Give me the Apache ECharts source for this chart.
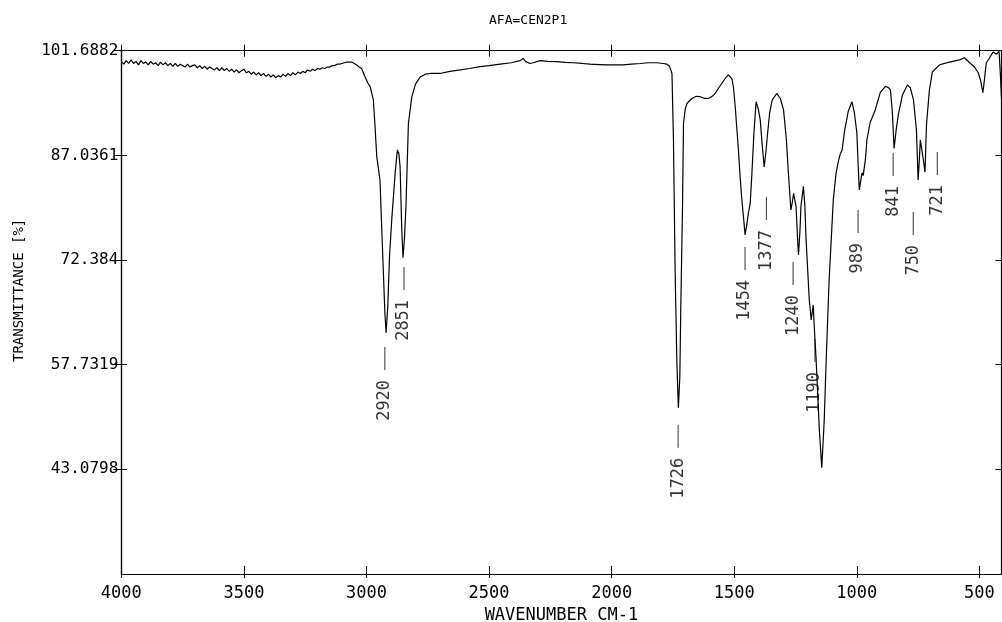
<!DOCTYPE html>
<html><head><meta charset="utf-8">
<script src="https://cdn.jsdelivr.net/npm/echarts@6/dist/echarts.min.js"></script>
<style>html,body{margin:0;padding:0;background:#fff}#c{width:1002px;height:622px}</style>
</head><body><div id="c"></div>
<script>
// spectrum: [wavenumber cm-1, transmittance %]
const spectrum = [[4000,100.2],[3990,99.8],[3980,100.3],[3970,99.9],[3960,100.4],[3950,99.9],[3940,100.2],[3930,99.7],[3920,100.3],[3910,99.9],[3900,100.1],[3890,99.7],[3880,100.2],[3870,99.8],[3860,100.0],[3850,99.6],[3840,100.1],[3830,99.7],[3820,100.0],[3810,99.6],[3800,99.9],[3790,99.5],[3780,99.9],[3770,99.5],[3760,99.8],[3750,99.6],[3740,99.4],[3730,99.8],[3720,99.4],[3710,99.6],[3700,99.7],[3690,99.3],[3680,99.6],[3670,99.2],[3660,99.5],[3650,99.1],[3640,99.4],[3630,99.2],[3620,99.0],[3610,99.3],[3600,98.9],[3590,99.3],[3580,98.9],[3570,99.2],[3560,98.8],[3550,99.1],[3540,98.7],[3530,99.0],[3520,98.6],[3510,98.9],[3500,99.1],[3490,98.6],[3480,98.8],[3470,98.4],[3460,98.7],[3450,98.3],[3440,98.6],[3430,98.2],[3420,98.5],[3410,98.1],[3400,98.4],[3390,98.0],[3380,98.3],[3370,97.9],[3360,98.2],[3350,98.0],[3340,98.4],[3330,98.1],[3320,98.5],[3310,98.2],[3300,98.6],[3290,98.3],[3280,98.7],[3270,98.5],[3260,98.8],[3250,98.6],[3240,99.0],[3230,98.8],[3220,99.1],[3210,98.9],[3200,99.2],[3190,99.1],[3180,99.3],[3170,99.2],[3160,99.4],[3150,99.4],[3140,99.6],[3130,99.6],[3120,99.8],[3110,99.8],[3100,99.9],[3090,100.0],[3080,100.1],[3070,100.1],[3060,100.1],[3050,99.9],[3040,99.7],[3030,99.4],[3020,99.2],[3006,98.05],[2995,97.2],[2985,96.65],[2978,96.8],[2972,94.8],[2965,91.0],[2958,86.85],[2945,83.6],[2931,70.6],[2925,65.0],[2920,62.2],[2913,66.0],[2906,72.9],[2897,78.0],[2883,84.6],[2874,87.8],[2868,87.3],[2863,85.5],[2856,76.6],[2851,72.7],[2845,75.5],[2839,79.9],[2829,91.5],[2815,95.25],[2800,97.0],[2781,98.0],[2760,98.4],[2740,98.5],[2700,98.5],[2660,98.8],[2618,99.0],[2580,99.2],[2537,99.45],[2500,99.6],[2455,99.8],[2410,100.0],[2373,100.3],[2361,100.6],[2352,100.2],[2345,100.4],[2333,99.9],[2320,100.0],[2312,99.9],[2292,100.3],[2260,100.2],[2224,100.15],[2190,100.05],[2157,100.0],[2120,99.9],[2088,99.8],[2050,99.75],[2020,99.7],[1985,99.7],[1953,99.7],[1920,99.8],[1884,99.9],[1850,100.0],[1816,100.0],[1790,99.9],[1775,99.8],[1764,99.5],[1754,98.5],[1748,89.2],[1741,70.6],[1734,58.0],[1728,51.7],[1722,56.0],[1718,65.9],[1711,79.9],[1707,91.5],[1700,93.5],[1693,94.3],[1673,95.0],[1655,95.3],[1639,95.25],[1620,95.0],[1605,95.0],[1590,95.3],[1578,95.7],[1565,96.4],[1551,97.1],[1537,97.8],[1524,98.3],[1517,98.1],[1510,97.8],[1503,96.5],[1496,93.85],[1490,91.0],[1483,87.8],[1476,84.0],[1469,80.8],[1462,78.3],[1456,75.9],[1448,77.5],[1442,79.0],[1435,80.3],[1428,84.5],[1420,90.0],[1411,94.55],[1402,93.5],[1394,92.0],[1386,88.5],[1378,85.4],[1371,87.5],[1364,90.1],[1356,92.9],[1345,94.8],[1326,95.7],[1312,95.0],[1299,93.4],[1288,89.5],[1279,84.5],[1269,79.4],[1263,80.5],[1258,81.7],[1248,79.9],[1242,75.5],[1238,73.1],[1232,76.5],[1228,79.9],[1218,82.7],[1212,80.0],[1207,75.2],[1194,66.8],[1186,64.0],[1178,66.1],[1172,62.0],[1166,58.4],[1153,48.6],[1143,43.3],[1133,50.0],[1125,58.4],[1113,69.6],[1096,80.8],[1085,84.5],[1076,86.1],[1068,87.2],[1060,87.8],[1050,90.5],[1035,93.2],[1020,94.55],[1010,93.0],[1000,90.2],[995,86.0],[990,82.2],[984,83.5],[979,84.6],[974,84.2],[970,84.0],[965,86.5],[959,89.2],[946,91.6],[925,93.4],[904,95.9],[883,96.7],[870,96.5],[863,96.2],[855,93.0],[848,88.0],[840,90.5],[831,92.7],[814,95.5],[794,96.9],[782,96.5],[769,94.8],[757,90.6],[750,83.6],[745,86.5],[741,89.2],[733,89.0],[727,86.0],[722,84.7],[716,91.3],[704,96.2],[692,98.7],[663,99.7],[622,100.1],[581,100.4],[561,100.7],[540,100.0],[520,99.4],[505,98.6],[495,97.5],[486,95.8],[480,97.5],[472,100.0],[460,100.6],[450,101.2],[444,101.5],[430,101.2],[420,101.6],[414,98.0],[410,95.0]];

const peakLabels = ['2920','2851','1726','1454','1377','1240','1190','989','841','750','721'];
const peakMarkWavenumber = [2925, 2847, 1729, 1456, 1369, 1260, 1171, 995, 852, 770, 672];
const peakMarkTransmittance = [61.62, 72.82, 50.71, 75.62, 82.61, 73.51, 62.74, 80.80, 88.77, 80.52, 88.91];

const yTicks = [43.0798, 57.7319, 72.384, 87.0361, 101.6882];
const yTickLabels = ['43.0798', '57.7319', '72.384', '87.0361', '101.6882'];
const xTicks = [4000, 3500, 3000, 2500, 2000, 1500, 1000, 500];
const xTickLabels = ['4000', '3500', '3000', '2500', '2000', '1500', '1000', '500'];
const yMin = 28.4277, yMax = 101.6882, xMin = 410, xMax = 4000;

const FONT = 'DejaVu Sans Mono';
const INK = '#000';
const chart = echarts.init(document.getElementById('c'), null, {renderer: 'canvas'});

function xAx(extra) {
  return Object.assign({
    type: 'value', min: xMin, max: xMax, inverse: true, gridIndex: 0,
    axisLine: {show: true, lineStyle: {color: INK, width: 1.2}},
    splitLine: {show: false},
    axisLabel: {show: false},
    axisTick: {show: true, customValues: xTicks, lineStyle: {color: INK, width: 1}}
  }, extra);
}
function yAx(extra) {
  return Object.assign({
    type: 'value', min: yMin, max: yMax, gridIndex: 0,
    axisLine: {show: true, lineStyle: {color: INK, width: 1.2}},
    splitLine: {show: false},
    axisLabel: {show: false},
    axisTick: {show: true, customValues: yTicks, lineStyle: {color: INK, width: 1}}
  }, extra);
}

chart.setOption({
  animation: false,
  backgroundColor: '#fff',
  title: {
    text: 'AFA=CEN2P1', left: 484, top: 9,
    textStyle: {fontFamily: FONT, fontSize: 13, fontWeight: 'normal', color: INK}
  },
  grid: {left: 121.3, right: 0.5, top: 50.7, bottom: 48, containLabel: false, outerBoundsMode: 'none'},
  xAxis: [
    xAx({position: 'bottom',
      name: 'WAVENUMBER CM-1', nameLocation: 'middle', nameGap: 31,
      nameTextStyle: {fontFamily: FONT, fontSize: 17, color: INK},
      axisTick: {show: true, customValues: xTicks, inside: false, length: 4, lineStyle: {color: INK}},
      axisLabel: {show: true, customValues: xTicks, margin: 11, fontFamily: FONT, fontSize: 17, color: INK,
        formatter: v => xTickLabels[xTicks.indexOf(v)] ?? String(v)}
    }),
    xAx({position: 'bottom', axisTick: {show: true, customValues: xTicks, inside: true, length: 8, lineStyle: {color: INK}}}),
    xAx({position: 'top', axisTick: {show: true, customValues: xTicks, inside: true, length: 6, lineStyle: {color: INK}}}),
    xAx({position: 'top', axisTick: {show: true, customValues: xTicks, inside: false, length: 6, lineStyle: {color: INK}}})
  ],
  yAxis: [
    yAx({position: 'left', offset: 0,
      name: 'TRANSMITTANCE [%]', nameLocation: 'middle', nameGap: 95,
      nameTextStyle: {fontFamily: FONT, fontSize: 14, color: INK, padding: [0, 0, 0, 44]},
      axisTick: {show: true, customValues: yTicks, inside: false, length: 8, lineStyle: {color: INK}},
      axisLabel: {show: true, customValues: yTicks, margin: 3, fontFamily: FONT, fontSize: 16, color: INK,
        verticalAlign: 'middle', padding: [0, 0, 7, 0],
        formatter: v => { let i = yTicks.findIndex(t => Math.abs(t - v) < 1e-6); return i >= 0 ? yTickLabels[i] : ''; }}
    }),
    yAx({position: 'left', offset: 0, axisTick: {show: true, customValues: yTicks, inside: true, length: 6, lineStyle: {color: INK}}}),
    yAx({position: 'right', offset: 0, axisTick: {show: true, customValues: yTicks, inside: true, length: 6, lineStyle: {color: INK}}})
  ],
  series: [
    {
      type: 'line', name: 'spectrum', xAxisIndex: 0, yAxisIndex: 0,
      data: spectrum, showSymbol: false, symbol: 'none', smooth: false,
      lineStyle: {color: '#000', width: 1.2}, clip: true
    },
    {
      type: 'scatter', name: 'peaks', xAxisIndex: 0, yAxisIndex: 0,
      data: peakMarkWavenumber.map((w, i) => ({value: [w, peakMarkTransmittance[i]], name: peakLabels[i]})),
      symbol: 'rect', symbolSize: [1, 23], symbolOffset: [0, 21.5],
      itemStyle: {color: INK},
      label: {
        show: true, position: 'bottom', distance: 10, rotate: 90,
        align: 'right', verticalAlign: 'middle',
        fontFamily: FONT, fontSize: 17, color: INK,
        formatter: p => p.name
      },
      emphasis: {disabled: true}, silent: true
    }
  ]
});
</script></body></html>
